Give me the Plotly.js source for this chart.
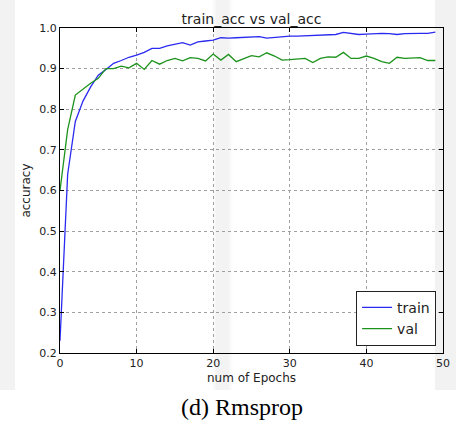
<!DOCTYPE html>
<html>
<head>
<meta charset="utf-8">
<script src="https://cdn.plot.ly/plotly-3.0.1.min.js"></script>
<style>
  html, body { margin: 0; padding: 0; background: #ffffff; }
  #wrap { position: relative; width: 456px; height: 427px; overflow: hidden; }
  #bg { position: absolute; left: 0; top: 0; width: 456px; height: 390px;
        background:
          linear-gradient(to right, #f2f2f2 0px, #f2f2f2 15px, rgba(255,255,255,0) 15px),
          linear-gradient(to right, rgba(255,255,255,0) 435px, #f2f2f2 435px),
          linear-gradient(to right, rgba(255,255,255,0) 212px, #f3f3f3 217px, #f3f3f3 228px, rgba(255,255,255,0) 233px);
  }
  #plot { position: absolute; left: 0; top: 0; width: 456px; height: 427px; }
</style>
</head>
<body>
<div id="wrap">
  <div id="bg"></div>
  <div id="plot"></div>
</div>
<script>
const epochs = [0,1,2,3,4,5,6,7,8,9,10,11,12,13,14,15,16,17,18,19,20,21,22,23,24,25,26,27,28,29,30,31,32,33,34,35,36,37,38,39,40,41,42,43,44,45,46,47,48,49];
const trainAcc = [0.23,0.64,0.77,0.82,0.855,0.884,0.898,0.913,0.92,0.928,0.933,0.94,0.95,0.95,0.956,0.96,0.964,0.958,0.966,0.968,0.97,0.976,0.975,0.976,0.977,0.978,0.979,0.975,0.977,0.979,0.98,0.98,0.981,0.981,0.982,0.983,0.984,0.989,0.986,0.984,0.985,0.986,0.987,0.986,0.984,0.986,0.987,0.987,0.987,0.99];
const valAcc = [0.60,0.75,0.835,0.85,0.864,0.876,0.90,0.90,0.906,0.902,0.913,0.898,0.92,0.911,0.92,0.925,0.919,0.927,0.925,0.919,0.936,0.921,0.935,0.917,0.925,0.932,0.929,0.939,0.931,0.921,0.922,0.924,0.925,0.915,0.925,0.929,0.928,0.94,0.925,0.925,0.931,0.925,0.917,0.913,0.928,0.925,0.926,0.927,0.92,0.92];
const seriesNames = ["train", "val"];
const chartTitle = "train_acc vs val_acc";
const xTitle = "num of Epochs";
const yTitle = "accuracy";
const caption = "(d) Rmsprop";

const font = "DejaVu Sans, sans-serif";
const traces = [
  { x: epochs, y: trainAcc, name: seriesNames[0], type: "scatter", mode: "lines",
    line: { color: "#2a2af0", width: 1.3 } },
  { x: epochs, y: valAcc, name: seriesNames[1], type: "scatter", mode: "lines",
    line: { color: "#1c931c", width: 1.3 } }
];

const axisCommon = {
  showline: true, linecolor: "#000", linewidth: 1, mirror: "ticks",
  ticks: "inside", ticklen: 4, tickcolor: "#000", tickwidth: 1,
  showgrid: true, gridcolor: "#a0a0a0", griddash: "dot", gridwidth: 1,
  zeroline: false, tickfont: { family: font, size: 11, color: "#222" }
};

const layout = {
  width: 456, height: 427,
  margin: { l: 60, r: 13, t: 28, b: 74 },
  paper_bgcolor: "rgba(0,0,0,0)", plot_bgcolor: "rgba(0,0,0,0)",
  font: { family: font, color: "#222" },
  showlegend: true,
  title: { text: chartTitle, font: { family: font, size: 14, color: "#222" },
           x: 0.5, xref: "paper", xanchor: "center", y: 1, yref: "paper", yanchor: "bottom",
           pad: { b: 4 } },
  xaxis: Object.assign({}, axisCommon, {
    range: [0, 50], dtick: 10, tick0: 0,
    title: { text: xTitle, font: { family: font, size: 12, color: "#222" }, standoff: 4 }
  }),
  yaxis: Object.assign({}, axisCommon, {
    range: [0.2, 1.0], dtick: 0.1, tick0: 0.2, tickformat: ".1f",
    title: { text: yTitle, font: { family: font, size: 12, color: "#222" }, standoff: 6 }
  }),
  legend: {
    x: 0.982, y: 0.022, xanchor: "right", yanchor: "bottom",
    bgcolor: "#ffffff", bordercolor: "#222", borderwidth: 1,
    font: { family: font, size: 14, color: "#222" },
    tracegroupgap: 0, itemwidth: 30
  },
  annotations: [{
    text: caption, xref: "paper", yref: "paper", x: 0.4765, y: -0.166,
    xanchor: "center", yanchor: "middle", showarrow: false,
    font: { family: "Liberation Serif, Times New Roman, serif", size: 24, color: "#000" }
  }]
};

Plotly.newPlot("plot", traces, layout, { displayModeBar: false, staticPlot: true });
</script>
</body>
</html>
